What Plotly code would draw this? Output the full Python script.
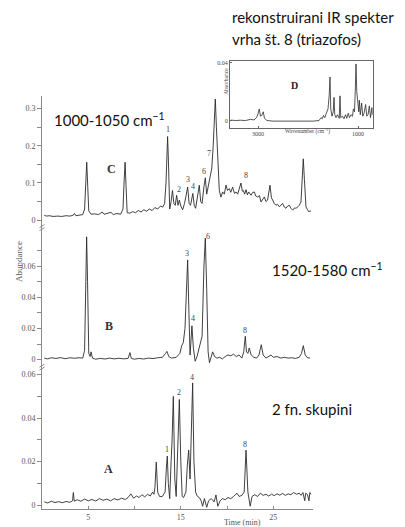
import plotly.graph_objects as go

# ---------------- data ----------------
# Panel C: 1000-1050 cm-1 reconstructed chromatogram (time min, abundance)
c_time = [0.24, 0.5, 0.8, 1.2, 1.7, 2.1, 2.6, 3.0, 3.35, 3.5, 3.65, 4.0, 4.4, 4.6, 4.72, 4.83, 4.94, 5.05,
          5.3, 5.7, 6.1, 6.5, 6.7, 7.0, 7.45, 7.7, 8.1, 8.5, 8.75, 8.88, 8.98, 9.08, 9.2, 9.5, 9.8, 10.1,
          10.4, 10.7, 11.0, 11.3, 11.6, 11.9, 12.2, 12.5, 12.8, 13.05, 13.25, 13.4, 13.5, 13.57, 13.65,
          13.8, 13.95, 14.1, 14.25, 14.4, 14.55, 14.7, 14.84, 15.0, 15.2, 15.4, 15.6, 15.74, 15.9, 16.05,
          16.3, 16.45, 16.6, 16.8, 17.0, 17.15, 17.3, 17.5, 17.65, 17.8, 17.95, 18.1, 18.2, 18.35, 18.5,
          18.65, 18.73, 18.85, 18.98, 19.16, 19.34, 19.52, 19.7, 19.89, 20.05, 20.24, 20.4, 20.6, 20.8,
          20.97, 21.15, 21.32, 21.5, 21.65, 21.76, 21.9, 22.05, 22.2, 22.33, 22.59, 22.75, 22.95, 23.1,
          23.3, 23.5, 23.67, 23.85, 24.03, 24.2, 24.38, 24.64, 24.8, 24.93, 25.1, 25.29, 25.45, 25.65,
          25.85, 26.0, 26.2, 26.37, 26.55, 26.73, 26.9, 27.09, 27.3, 27.45, 27.65, 27.81, 27.99, 28.12,
          28.24, 28.36, 28.53, 28.7, 28.82, 29.07]
c_abund = [0.013, 0.011, 0.012, 0.010, 0.011, 0.010, 0.012, 0.011, 0.013, 0.018, 0.012, 0.013, 0.015,
           0.03, 0.11, 0.156, 0.09, 0.025, 0.016, 0.017, 0.015, 0.022, 0.016, 0.018, 0.021, 0.015, 0.018,
           0.016, 0.03, 0.11, 0.156, 0.09, 0.02, 0.019, 0.023, 0.02, 0.026, 0.022, 0.028, 0.024, 0.03,
           0.026, 0.034, 0.03, 0.038, 0.035, 0.045, 0.1, 0.2, 0.225, 0.17, 0.03, 0.05, 0.08, 0.045, 0.04,
           0.067, 0.04, 0.054, 0.038, 0.028, 0.045, 0.07, 0.089, 0.045, 0.04, 0.072, 0.04, 0.032, 0.06,
           0.094, 0.05, 0.045, 0.09, 0.114, 0.07, 0.09, 0.105, 0.113, 0.14, 0.2, 0.31, 0.326, 0.25, 0.17,
           0.08, 0.062, 0.076, 0.07, 0.094, 0.08, 0.085, 0.075, 0.089, 0.072, 0.076, 0.07, 0.085, 0.1,
           0.078, 0.08, 0.07, 0.082, 0.068, 0.076, 0.067, 0.074, 0.076, 0.065, 0.0625, 0.066, 0.049,
           0.055, 0.0625, 0.05, 0.054, 0.094, 0.06, 0.054, 0.045, 0.040, 0.043, 0.036, 0.04, 0.045, 0.035,
           0.032, 0.038, 0.040, 0.032, 0.027, 0.033, 0.032, 0.036, 0.040, 0.049, 0.12, 0.165, 0.11, 0.036,
           0.028, 0.023, 0.025]

# Panel B: 1520-1580 cm-1
b_time = [0.24, 0.6, 1.0, 1.5, 2.0, 2.5, 3.0, 3.5, 4.0, 4.4, 4.6, 4.72, 4.82, 4.92, 5.05, 5.2, 5.3, 5.45,
          5.8, 6.3, 6.8, 7.3, 7.8, 8.3, 8.8, 9.3, 9.5, 9.65, 10.0, 10.5, 11.0, 11.5, 12.0, 12.5, 13.0,
          13.35, 13.5, 13.7, 14.0, 14.5, 14.9, 15.1, 15.27, 15.45, 15.6, 15.74, 15.88, 16.0, 16.1, 16.2,
          16.35, 16.55, 16.75, 17.0, 17.3, 17.5, 17.65, 17.8, 17.95, 18.1, 18.25, 18.44, 18.65, 18.9,
          19.2, 19.5, 19.8, 20.1, 20.4, 20.7, 21.0, 21.3, 21.6, 21.8, 21.97, 22.1, 22.25, 22.4, 22.6,
          22.9, 23.2, 23.45, 23.7, 23.9, 24.2, 24.5, 24.75, 25.0, 25.4, 25.8, 26.2, 26.6, 27.0, 27.4,
          27.8, 28.05, 28.24, 28.45, 28.7, 28.96]
b_abund = [0.001, 0.0005, 0.0012, 0.0008, 0.0013, 0.0006, 0.0012, 0.0009, 0.0012, 0.001, 0.006, 0.05,
           0.0788, 0.05, 0.004, 0.002, 0.005, 0.001, 0.0003, 0.0008, 0.0004, 0.001, 0.0005, 0.0009,
           0.0005, 0.0008, 0.0045, 0.0008, 0.0003, 0.0008, 0.0004, 0.001, 0.0007, 0.0012, 0.0015, 0.004,
           0.0053, 0.002, 0.001, 0.0015, 0.004, 0.009, 0.011, 0.02, 0.05, 0.064, 0.03, 0.003, 0.012,
           0.0217, 0.008, -0.001, 0.002, 0.008, 0.015, 0.06, 0.078, 0.045, 0.005, -0.002, 0.002, 0.005,
           0.002, 0.001, 0.0015, 0.0005, 0.002, 0.003, 0.0025, 0.0035, 0.002, 0.003, 0.001, 0.005, 0.015,
           0.005, 0.004, 0.0075, 0.003, 0.0015, 0.001, 0.003, 0.0096, 0.003, 0.001, 0.002, 0.003, 0.0015,
           0.002, 0.001, 0.0015, 0.001, 0.0012, 0.0008, 0.0015, 0.004, 0.009, 0.003, 0.0012, 0.001]

# Panel A: 2 functional groups
a_time = [0.24, 0.6, 1.0, 1.4, 1.8, 2.2, 2.6, 3.0, 3.3, 3.38, 3.48, 3.8, 4.2, 4.6, 5.0, 5.4, 5.8, 6.2,
          6.6, 7.0, 7.4, 7.8, 8.2, 8.6, 9.0, 9.3, 9.6, 9.9, 10.2, 10.5, 10.8, 11.1, 11.4, 11.7, 11.95,
          12.1, 12.2, 12.35, 12.5, 12.7, 13.0, 13.3, 13.45, 13.54, 13.65, 13.8, 13.95, 14.05, 14.19,
          14.35, 14.5, 14.65, 14.84, 15.0, 15.15, 15.3, 15.55, 15.7, 15.85, 16.0, 16.15, 16.28, 16.42,
          16.6, 16.8, 17.0, 17.2, 17.36, 17.55, 17.8, 18.0, 18.3, 18.6, 18.8, 19.0, 19.25, 19.5, 19.8,
          20.1, 20.4, 20.7, 21.07, 21.3, 21.6, 21.85, 22.05, 22.25, 22.5, 22.7, 23.0, 23.3, 23.6, 23.9,
          24.2, 24.5, 24.8, 25.1, 25.4, 25.7, 26.0, 26.3, 26.6, 26.9, 27.2, 27.5, 27.8, 28.0, 28.2, 28.4,
          28.5, 28.7, 28.85, 28.95, 29.07]
a_abund = [0.0015, 0.001, 0.0018, 0.0012, 0.0016, 0.0011, 0.0017, 0.0013, 0.002, 0.0058, 0.0018, 0.0025,
           0.0018, 0.0028, 0.002, 0.0026, 0.0019, 0.003, 0.0022, 0.0028, 0.002, 0.003, 0.0024, 0.0032,
           0.0026, 0.0035, 0.0052, 0.0032, 0.0042, 0.0035, 0.0048, 0.0038, 0.005, 0.0042, 0.006, 0.005,
           0.008, 0.0198, 0.006, 0.004, 0.004, 0.006, 0.018, 0.0226, 0.01, 0.003, 0.02, 0.029, 0.05,
           0.012, 0.004, 0.02, 0.0486, 0.02, 0.004, 0.0035, 0.006, 0.018, 0.0253, 0.012, 0.035, 0.0562,
           0.02, 0.006, 0.004, 0.0035, 0.002, -0.0005, 0.003, -0.001, 0.002, 0.003, 0.0015, 0.0047,
           -0.0005, 0.002, 0.003, 0.0025, 0.0035, 0.003, 0.004, 0.0055, 0.004, 0.0045, 0.006, 0.0253,
           0.006, -0.0005, 0.004, 0.0048, 0.004, 0.0055, 0.0045, 0.005, 0.0042, 0.005, 0.0044, 0.0052,
           0.0046, 0.0054, 0.0045, 0.0052, 0.0048, 0.0058, 0.005, 0.0055, 0.0045, 0.0058, 0.002, 0.0055,
           0.0048, 0.002, 0.0058, 0.005]

# Inset D: reconstructed IR spectrum of peak 8 (wavenumber cm-1, absorbance)
ir_wavenumber = [3540, 3450, 3350, 3250, 3150, 3080, 3030, 3000, 2975, 2950, 2925, 2895, 2870, 2820, 2700,
                 2500, 2300, 2100, 1900, 1780, 1740, 1715, 1690, 1665, 1630, 1600, 1575, 1560, 1545, 1520,
                 1495, 1480, 1465, 1440, 1410, 1375, 1360, 1345, 1310, 1280, 1250, 1225, 1195, 1170, 1140,
                 1110, 1093, 1070, 1055, 1040, 1025, 1000, 985, 973, 955, 927, 905, 880, 847, 825, 800,
                 773, 750, 720, 710]
ir_absorb = [0.0003, 0.0, 0.0002, 0.0, 0.0008, 0.0004, 0.002, 0.0045, 0.008, 0.003, 0.0035, 0.006, 0.0015,
             0.0, -0.0004, -0.0005, -0.0006, -0.0005, -0.0004, 0.0, 0.002, 0.0012, 0.0035, 0.002, 0.005,
             0.008, 0.018, 0.030, 0.008, 0.003, 0.006, 0.016, 0.004, 0.002, 0.004, 0.0015, 0.017, 0.002,
             0.003, 0.0012, 0.004, 0.0015, 0.005, 0.002, 0.004, 0.003, 0.008, 0.006, 0.02, 0.039, 0.02,
             0.012, 0.006, 0.014, 0.004, 0.012, 0.003, 0.005, 0.011, 0.003, 0.004, 0.01, 0.002, 0.009,
             0.004]

# peak labels: (label, time, abundance)
c_labels = [("1", 13.57, 0.243), ("2", 14.84, 0.083), ("3", 15.78, 0.109), ("4", 16.35, 0.091),
            ("6", 17.5, 0.131), ("7", 18.0, 0.180), ("8", 22.08, 0.12)]
b_labels = [("3", 15.67, 0.0682), ("4", 16.28, 0.0264), ("6", 17.97, 0.0788), ("8", 21.97, 0.0187)]
a_labels = [("1", 13.54, 0.0257), ("2", 14.76, 0.0516), ("4", 16.21, 0.0588), ("8", 21.97, 0.0279)]

c_ticks = [0, 0.1, 0.2, 0.3]
c_ticktext = ["0", "0.1", "0.2", "0.3"]
c_minor = [0.05, 0.15, 0.25]
ab_ticks = [0, 0.02, 0.04, 0.06]
ab_ticktext = ["0", "0.02", "0.04", "0.06"]
ab_minor = [0.01, 0.03, 0.05, 0.07]
time_ticks = [5, 15, 25]
time_ticktext = ["5", "15", "25"]
time_minor = [10, 20]

# ---------------- figure ----------------
W, H = 405, 527
def px(x):
    return x / W
def py(y):
    return 1 - y / H

LINE = dict(color="#2b2b2b", width=0.9)
SERIF = "Liberation Serif"
SANS = "Lato"
AXC = "#8a8a8a"
TXT = "#555555"

fig = go.Figure()
fig.add_trace(go.Scatter(x=c_time, y=c_abund, xaxis="x", yaxis="y", mode="lines", line=LINE))
fig.add_trace(go.Scatter(x=b_time, y=b_abund, xaxis="x2", yaxis="y2", mode="lines", line=LINE))
fig.add_trace(go.Scatter(x=a_time, y=a_abund, xaxis="x3", yaxis="y3", mode="lines", line=LINE))
fig.add_trace(go.Scatter(x=ir_wavenumber, y=ir_absorb, xaxis="x4", yaxis="y4", mode="lines",
                         line=dict(color="#2b2b2b", width=0.8)))

xdom = [px(42.05), px(313)]
xrange_ = [0, 29.29]
hidden_x = dict(domain=xdom, range=xrange_, visible=False)

def yax(dom, rng, tv, tt, mv):
    return dict(domain=dom, range=rng, tickmode="array", tickvals=tv, ticktext=tt,
                showline=True, linecolor=AXC, linewidth=1, ticks="outside", ticklen=4,
                tickcolor=AXC, tickwidth=1, showgrid=False, zeroline=False,
                minor=dict(tickmode="array", tickvals=mv, ticks="outside", ticklen=4,
                           tickcolor=AXC, tickwidth=1, showgrid=False),
                tickfont=dict(family=SERIF, size=8, color=TXT))

fig.update_layout(
    width=W, height=H, margin=dict(l=0, r=0, t=0, b=0),
    paper_bgcolor="white", plot_bgcolor="rgba(0,0,0,0)", showlegend=False,
    xaxis=dict(hidden_x, anchor="y"),
    yaxis=dict(yax([py(228), py(95)], [-0.0214, 0.335], c_ticks, c_ticktext, c_minor), anchor="x"),
    xaxis2=dict(hidden_x, anchor="y2"),
    yaxis2=dict(yax([py(368), py(222)], [-0.0051, 0.0882], ab_ticks, ab_ticktext, ab_minor), anchor="x2"),
    xaxis3=dict(domain=xdom, range=xrange_, anchor="y3", tickmode="array", tickvals=time_ticks,
                ticktext=time_ticktext, showline=True, linecolor=AXC, linewidth=1, ticks="inside",
                ticklen=3, tickcolor=AXC, showgrid=False, zeroline=False,
                minor=dict(tickmode="array", tickvals=time_minor, ticks="inside", ticklen=3,
                           tickcolor=AXC, showgrid=False),
                tickfont=dict(family=SERIF, size=8, color=TXT)),
    yaxis3=dict(yax([py(510), py(362)], [-0.0018, 0.066], ab_ticks, ab_ticktext, ab_minor[:3]),
                anchor="x3"),
    xaxis4=dict(domain=[px(230), px(372.7)], range=[3560, 706], anchor="y4", tickmode="array",
                tickvals=[3000, 1000], ticktext=["3000", "1000"], showline=True, mirror=True,
                linecolor="#666666", linewidth=1, ticks="inside", ticklen=2, tickcolor="#666666",
                showgrid=False, zeroline=False, tickfont=dict(family=SERIF, size=6, color="#444444")),
    yaxis4=dict(domain=[py(127.7), py(60)], range=[-0.0053, 0.0412], anchor="x4", tickmode="array",
                tickvals=[0, 0.04], ticktext=["0", "0.04"], showline=True, mirror=True,
                linecolor="#666666", linewidth=1, ticks="inside", ticklen=2, tickcolor="#666666",
                showgrid=False, zeroline=False, tickfont=dict(family=SERIF, size=6, color="#444444")),
)

ann = []
def paper_text(x, y, text, size, family=SANS, color="#111111", xanchor="left", **kw):
    ann.append(dict(x=px(x), y=py(y), xref="paper", yref="paper", text=text, showarrow=False,
                    xanchor=xanchor, yanchor="middle", font=dict(family=family, size=size, color=color),
                    **kw))

paper_text(230, 16, "rekonstruirani IR spekter", 15)
paper_text(230, 38, "vrha št. 8 (triazofos)", 15)
paper_text(52, 119, "1000-1050 cm<sup>−1</sup>", 15)
paper_text(270, 270, "1520-1580 cm<sup>−1</sup>", 15)
paper_text(270, 410, "2 fn. skupini", 15)
paper_text(112, 169, "<b>C</b>", 12, family=SERIF, color="#333333", xanchor="center")
paper_text(109, 326, "<b>B</b>", 12, family=SERIF, color="#333333", xanchor="center")
paper_text(108, 470, "<b>A</b>", 12, family=SERIF, color="#333333", xanchor="center")
paper_text(294, 85, "<b>D</b>", 10, family=SERIF, color="#222222", xanchor="center")
paper_text(19, 262, "Abundance", 9, family=SERIF, color=TXT, xanchor="center", textangle=-90)
paper_text(242, 523, "Time (min)", 8, family=SERIF, color=TXT, xanchor="center")
paper_text(307, 131, "Wavenumber (cm<sup>−1</sup>)", 5.5, family=SERIF, color="#444444", xanchor="center")
paper_text(226, 81, "Absorbance", 5.5, family=SERIF, color="#444444", xanchor="center", textangle=-90)

for labels, xr, yr in [(c_labels, "x", "y"), (b_labels, "x2", "y2"), (a_labels, "x3", "y3")]:
    for lab, t, v in labels:
        ann.append(dict(x=t, y=v, xref=xr, yref=yr, text=lab, showarrow=False,
                        font=dict(family=SERIF, size=8, color="#444444")))

fig.update_layout(annotations=ann)

# small axis-break marks on the shared vertical axis
for yb in [226, 366]:
    for off in [0, 3]:
        fig.add_shape(type="line", xref="paper", yref="paper", x0=px(39.5), x1=px(44.5),
                      y0=py(yb + off + 1.5), y1=py(yb + off - 1.5), line=dict(color=AXC, width=1))

fig.write_html("out.html", config={"displayModeBar": False},
               post_script="document.body.style.margin='0';")
